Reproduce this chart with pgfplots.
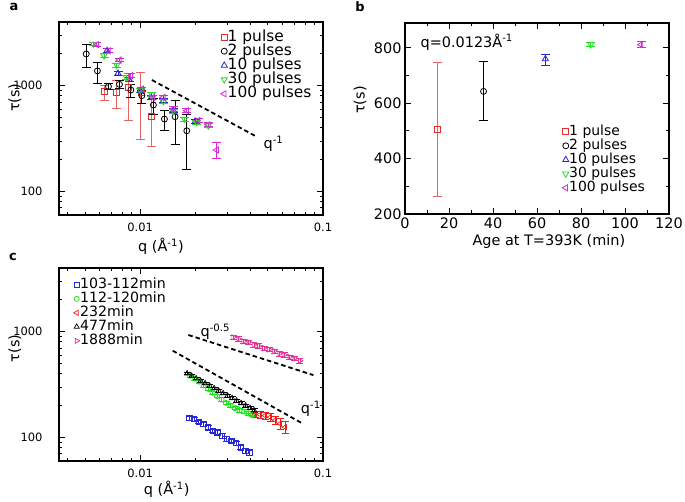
\documentclass[border=0pt]{standalone}
\usepackage{pgfplots}
\pgfplotsset{compat=1.18}
\usepackage{fontspec}
\setmainfont{DejaVu Sans}

\definecolor{pred}{RGB}{225,45,45}
\definecolor{predlt}{RGB}{232,100,100}
\definecolor{pblue}{RGB}{40,40,210}
\definecolor{pgreen}{RGB}{40,215,40}
\definecolor{pmag}{RGB}{215,40,215}
\definecolor{cblue}{RGB}{40,40,210}
\definecolor{cgreen}{RGB}{30,225,30}
\definecolor{cred}{RGB}{235,30,30}
\definecolor{cpink}{RGB}{225,50,150}

\newcommand\lblfont{\fontsize{14.5}{16}\selectfont}
\newcommand\tickfont{\fontsize{11.5}{12}\selectfont}

\pgfplotsset{
  mk/.style={only marks, mark size=3bp},
}

\begin{document}
\begin{tikzpicture}
\useasboundingbox (0,0) rectangle (685bp,502bp);

% ---------------- panel a
\begin{axis}[scale only axis, anchor=north west, at={(59bp,480bp)},
  width=264bp, height=193bp,
  axis line style={line width=1.3bp},
  every tick/.style={line width=1bp, black},
  major tick length=6bp, minor tick length=3.5bp, tick align=inside,
  xmode=log, ymode=log,
  xmin=0.0036, xmax=0.1, ymin=60, ymax=4000,
  xtick={0.01,0.1}, xticklabels={0.01,0.1},
  minor xtick={0.004,0.005,0.006,0.007,0.008,0.009,0.02,0.03,0.04,0.05,0.06,0.07,0.08,0.09},
  ytick={100,1000}, yticklabels={100,1000},
  minor ytick={60,70,80,90,200,300,400,500,600,700,800,900,2000,3000,4000},
  tick label style={font=\tickfont},
  xticklabel style={yshift=-4bp},
  yticklabel style={xshift=-13bp},
  xlabel={q (Å\textsuperscript{-1})}, ylabel={τ(s)},
  label style={font=\lblfont},
  xlabel style={at={(axis description cs:0.386,-0.164)}, anchor=center},
  ylabel style={at={(axis description cs:-0.167,0.606)}, anchor=center},
  legend style={draw=none, fill=none, font=\fontsize{15.5}{16}\selectfont, legend cell align=left,
    inner sep=0pt, nodes={inner sep=0.4bp, text height=10.8bp, text depth=2.6bp}, row sep=0pt,
    at={(axis description cs:0.612,0.96)}, anchor=north west},
  legend image code/.code={\draw[mark repeat=2,mark phase=2,#1] plot coordinates {(0bp,0bp)(4bp,0bp)(8bp,0bp)};}]
\addplot+[mk, mark=square, color=pred, mark options={fill=white, line width=0.8bp},
  error bars/.cd, y dir=both, y explicit,
  error bar style={color=predlt, line width=0.9bp}, error mark options={rotate=90, mark size=4.5bp, line width=0.9bp}]
  coordinates {
  (0.00638,877) += (0,138) -= (0,156)
  (0.00746,864) += (0,267) -= (0,249)
  (0.00863,964) += (0,330) -= (0,490)
  (0.0101,864) += (0,472) -= (0,551)
  (0.01148,509) += (0,239) -= (0,244)
  };
\addplot+[mk, mark=o, color=black, mark options={fill=white, line width=0.8bp},
  error bars/.cd, y dir=both, y explicit,
  error bar style={line width=0.9bp}, error mark options={rotate=90, mark size=4.5bp, line width=0.9bp}]
  coordinates {
  (0.00507,1995) += (0,483) -= (0,505)
  (0.00584,1380) += (0,282) -= (0,330)
  (0.00671,985) += (0,75) -= (0,70)
  (0.00771,1030) += (0,90) -= (0,90)
  (0.0089,910) += (0,127) -= (0,135)
  (0.01022,804) += (0,106) -= (0,124)
  (0.01182,657) += (0,108) -= (0,117)
  (0.01358,484) += (0,96) -= (0,109)
  (0.01553,509) += (0,223) -= (0,232)
  (0.0180,375) += (0,155) -= (0,212)
  };
\addplot+[mk, mark=triangle, mark size=3.5bp, color=pblue, mark options={fill=white, line width=0.8bp},
  error bars/.cd, y dir=both, y explicit,
  error bar style={line width=0.9bp}, error mark options={rotate=90, mark size=4.5bp, line width=0.9bp}]
  coordinates {
  (0.0066,2140) +- (0,90)
  (0.00757,1307) +- (0,60)
  (0.0087,1150) +- (0,50)
  (0.01,897) +- (0,40)
  (0.0115,770) +- (0,35)
  (0.0134,720) +- (0,30)
  (0.0152,580) +- (0,25)
  (0.0200,460) +- (0,20)
  };
\addplot+[mk, mark=triangle, mark size=3.5bp, color=pgreen, mark options={rotate=180, fill=white, line width=0.8bp},
  error bars/.cd, y dir=both, y explicit,
  error bar style={line width=0.9bp}, error mark options={rotate=90, mark size=4.5bp, line width=0.9bp}]
  coordinates {
  (0.00555,2480) +- (0,100)
  (0.00635,1920) +- (0,80)
  (0.00746,1568) +- (0,65)
  (0.0084,1198) +- (0,50)
  (0.01,910) +- (0,40)
  (0.0116,820) +- (0,35)
  (0.0134,710) +- (0,30)
  (0.0152,576) +- (0,25)
  (0.0175,484) +- (0,22)
  (0.0204,450) +- (0,20)
  (0.0236,418) +- (0,18)
  };
\addplot+[mk, mark=triangle, mark size=3.5bp, color=pmag, mark options={rotate=90, fill=white, line width=0.8bp},
  error bars/.cd, y dir=both, y explicit,
  error bar style={line width=0.9bp}, error mark options={rotate=90, mark size=4.5bp, line width=0.9bp}]
  coordinates {
  (0.0058,2440) +- (0,100)
  (0.00671,2140) +- (0,90)
  (0.00771,1751) +- (0,70)
  (0.0089,1243) +- (0,50)
  (0.01022,931) +- (0,40)
  (0.0117,775) +- (0,35)
  (0.0134,775) +- (0,35)
  (0.0152,602) +- (0,28)
  (0.018,580) +- (0,26)
  (0.0208,470) +- (0,22)
  (0.0236,428) +- (0,20)
  (0.0262,247) += (0,44) -= (0,42)
  };
\addplot[forget plot, black, line width=1.8bp, dash pattern=on 4.5bp off 3bp]
  coordinates {(0.0116,1132) (0.0425,336)};
\node[anchor=west, font=\lblfont] at (axis cs:0.0453,281) {q\textsuperscript{-1}};
\legend{1 pulse, 2 pulses, 10 pulses, 30 pulses, 100 pulses}
\end{axis}

% ---------------- panel b
\begin{axis}[scale only axis, anchor=north west, at={(405bp,479bp)},
  width=264bp, height=191bp,
  axis line style={line width=1.3bp},
  every tick/.style={line width=1bp, black},
  major tick length=6bp, minor tick length=3.5bp, tick align=inside,
  xmin=0, xmax=120, ymin=200, ymax=890,
  xtick={0,20,40,60,80,100,120}, xticklabels={0,20,40,60,80,100,120},
  ytick={200,400,600,800}, yticklabels={200,400,600,800},
  minor xtick={10,30,50,70,90,110}, minor ytick={300,500,700},
  tick label style={font=\fontsize{14.5}{16}\selectfont},
  xlabel={Age at T=393K (min)}, ylabel={τ(s)},
  label style={font=\lblfont},
  xlabel style={at={(axis description cs:0.545,-0.145)}, anchor=center},
  ylabel style={at={(axis description cs:-0.170,0.597)}, anchor=center},
  legend style={draw=none, fill=none, font=\fontsize{14}{15}\selectfont, legend cell align=left,
    inner sep=0pt, nodes={inner sep=0.4bp, text height=10.6bp, text depth=2.6bp}, row sep=0pt,
    at={(axis description cs:0.595,0.468)}, anchor=north west},
  legend image code/.code={\draw[mark repeat=2,mark phase=2,#1] plot coordinates {(0bp,0bp)(4bp,0bp)(8bp,0bp)};}]
\addplot+[mk, mark=square, color=pred, mark options={fill=white, line width=0.8bp},
  error bars/.cd, y dir=both, y explicit,
  error bar style={color=predlt, line width=0.9bp}, error mark options={rotate=90, mark size=4.5bp, line width=0.9bp}]
  coordinates {(14.7,505) += (0,243) -= (0,241)};
\addplot+[mk, mark=o, color=black, mark options={fill=white, line width=0.8bp},
  error bars/.cd, y dir=both, y explicit,
  error bar style={line width=0.9bp}, error mark options={rotate=90, mark size=4.5bp, line width=0.9bp}]
  coordinates {(35.7,643) += (0,107) -= (0,106)};
\addplot+[mk, mark=triangle, mark size=3.5bp, color=pblue, mark options={fill=white, line width=0.8bp},
  error bars/.cd, y dir=both, y explicit,
  error bar style={line width=0.9bp}, error mark options={rotate=90, mark size=4.5bp, line width=0.9bp}]
  coordinates {(63.8,760) += (0,16) -= (0,24)};
\addplot+[mk, mark=triangle, mark size=3.5bp, color=pgreen, mark options={rotate=180, fill=white, line width=0.8bp},
  error bars/.cd, y dir=both, y explicit,
  error bar style={line width=0.9bp}, error mark options={rotate=90, mark size=4.5bp, line width=0.9bp}]
  coordinates {(84.4,812) +- (0,8)};
\addplot+[mk, mark=triangle, mark size=3.5bp, color=pmag, mark options={rotate=90, fill=white, line width=0.8bp},
  error bars/.cd, y dir=both, y explicit,
  error bar style={line width=0.9bp}, error mark options={rotate=90, mark size=4.5bp, line width=0.9bp}]
  coordinates {(107.3,812) +- (0,10)};
\node[anchor=west, font=\lblfont] at (axis cs:5.5,822) {q=0.0123Å\textsuperscript{-1}};
\legend{1 pulse, 2 pulses, 10 pulses, 30 pulses, 100 pulses}
\end{axis}

% ---------------- panel c
\begin{axis}[scale only axis, anchor=north west, at={(59bp,234bp)},
  width=264bp, height=193bp,
  axis line style={line width=1.3bp},
  every tick/.style={line width=1bp, black},
  major tick length=6bp, minor tick length=3.5bp, tick align=inside,
  xmode=log, ymode=log,
  xmin=0.0036, xmax=0.1, ymin=60, ymax=4000,
  xtick={0.01,0.1}, xticklabels={0.01,0.1},
  minor xtick={0.004,0.005,0.006,0.007,0.008,0.009,0.02,0.03,0.04,0.05,0.06,0.07,0.08,0.09},
  ytick={100,1000}, yticklabels={100,1000},
  minor ytick={60,70,80,90,200,300,400,500,600,700,800,900,2000,3000,4000},
  tick label style={font=\tickfont},
  xticklabel style={yshift=-4bp},
  yticklabel style={xshift=-13bp},
  xlabel={q (Å\textsuperscript{-1})}, ylabel={τ(s)},
  label style={font=\lblfont},
  xlabel style={at={(axis description cs:0.408,-0.147)}, anchor=center},
  ylabel style={at={(axis description cs:-0.167,0.584)}, anchor=center},
  legend style={draw=none, fill=none, font=\fontsize{14.2}{15}\selectfont, legend cell align=left,
    inner sep=0pt, nodes={inner sep=0.4bp, text height=10.6bp, text depth=2.6bp}, row sep=0pt,
    at={(axis description cs:0.055,0.95)}, anchor=north west},
  legend image code/.code={\draw[mark repeat=2,mark phase=2,#1] plot coordinates {(0bp,0bp)(4bp,0bp)(8bp,0bp)};}]
\addplot+[only marks, mark=square, mark size=2.6bp, mark options={line width=0.7bp}, color=cblue,
  error bars/.cd, y dir=both, y explicit,
  error bar style={line width=0.7bp}, error mark options={rotate=90, mark size=3.5bp, line width=0.7bp}]
  coordinates {
  (0.01859,152.6) +- (0,7)
  (0.01973,149.3) +- (0,7)
  (0.02093,140.7) +- (0,6)
  (0.02218,133.8) +- (0,6)
  (0.02353,124.6) +- (0,6)
  (0.02496,115.7) +- (0,5)
  (0.02645,111.7) +- (0,5)
  (0.02806,103.8) +- (0,5)
  (0.02977,96.6) +- (0,5)
  (0.03155,93.1) +- (0,4)
  (0.03346,88.5) +- (0,4)
  (0.03550,80.6) +- (0,4)
  (0.03762,74.8) +- (0,4)
  (0.03956,72.3) +- (0,4)
  };
\addplot+[only marks, mark=o, mark size=2.6bp, mark options={line width=0.7bp}, color=cgreen,
  error bars/.cd, y dir=both, y explicit,
  error bar style={line width=0.7bp}, error mark options={rotate=90, mark size=3.5bp, line width=0.7bp}]
  coordinates {
  (0.01876,383.6) +- (0,14)
  (0.01985,360.6) +- (0,13)
  (0.02101,337.2) +- (0,12)
  (0.02223,311.1) +- (0,11)
  (0.02353,288.3) +- (0,10)
  (0.02490,266.0) +- (0,10)
  (0.02635,246.4) +- (0,9)
  (0.02789,228.4) +- (0,9)
  (0.02951,212.5) +- (0,8)
  (0.03123,200.3) +- (0,8)
  (0.03304,189.7) +- (0,7)
  (0.03497,181.6) +- (0,7)
  (0.03700,175.8) +- (0,7)
  (0.03916,169.4) +- (0,7)
  (0.04093,162.9) +- (0,6)
  };
\addplot+[only marks, mark=triangle, mark size=3bp, mark options={rotate=90, line width=0.7bp}, color=cred,
  error bars/.cd, y dir=both, y explicit,
  error bar style={line width=0.7bp}, error mark options={rotate=90, mark size=3.5bp, line width=0.7bp}]
  coordinates {
  (0.04250,166.5) +- (0,12)
  (0.04525,164.7) +- (0,13)
  (0.04822,161.1) +- (0,13)
  (0.05134,156.0) +- (0,14)
  (0.05467,146.1) +- (0,14)
  (0.05821,135.3) +- (0,15)
  (0.06199,125.4) +- (0,16)
  };
\addplot+[only marks, mark=triangle, mark size=3bp, mark options={line width=0.7bp}, color=black,
  error bars/.cd, y dir=both, y explicit,
  error bar style={line width=0.7bp}, error mark options={rotate=90, mark size=3.5bp, line width=0.7bp}]
  coordinates {
  (0.01806,403.3) +- (0,12)
  (0.01912,382.8) +- (0,11)
  (0.02023,362.2) +- (0,11)
  (0.02141,343.1) +- (0,10)
  (0.02266,324.9) +- (0,10)
  (0.02398,308.4) +- (0,9)
  (0.02538,292.1) +- (0,9)
  (0.02685,276.6) +- (0,8)
  (0.02842,261.9) +- (0,8)
  (0.03008,248.5) +- (0,8)
  (0.03183,235.3) +- (0,7)
  (0.03368,222.9) +- (0,7)
  (0.03564,211.1) +- (0,7)
  (0.03772,200.3) +- (0,6)
  (0.03992,189.7) +- (0,6)
  (0.04198,180.8) +- (0,6)
  };
\addplot+[only marks, mark=triangle, mark size=3bp, mark options={rotate=-90, line width=0.7bp}, color=cpink,
  error bars/.cd, y dir=both, y explicit,
  error bar style={line width=0.7bp}, error mark options={rotate=90, mark size=3.5bp, line width=0.7bp}]
  coordinates {
  (0.03236,885) +- (0,45)
  (0.03449,855) +- (0,43)
  (0.03678,810) +- (0,40)
  (0.03926,795) +- (0,40)
  (0.04187,750) +- (0,38)
  (0.04465,735) +- (0,37)
  (0.04761,700) +- (0,35)
  (0.05082,680) +- (0,34)
  (0.05419,655) +- (0,33)
  (0.05779,620) +- (0,31)
  (0.06162,605) +- (0,30)
  (0.06577,575) +- (0,29)
  (0.07014,560) +- (0,28)
  (0.07486,530) +- (0,30)
  };
\addplot[forget plot, black, line width=1.8bp, dash pattern=on 4.5bp off 3bp]
  coordinates {(0.01836,931) (0.0886,389)};
\addplot[forget plot, black, line width=1.8bp, dash pattern=on 4.5bp off 3bp]
  coordinates {(0.01508,661) (0.0765,137)};
\node[anchor=west, font=\lblfont] at (axis cs:0.0205,1000) {q\textsuperscript{-0.5}};
\node[anchor=west, font=\lblfont] at (axis cs:0.0725,186) {q\textsuperscript{-1}};
\legend{103-112min, 112-120min, 232min, 477min, 1888min}
\end{axis}

\node[font=\bfseries\fontsize{13}{13}\selectfont] at (14bp,495bp) {a};
\node[font=\bfseries\fontsize{13}{13}\selectfont] at (360bp,495bp) {b};
\node[font=\bfseries\fontsize{13}{13}\selectfont] at (13bp,245bp) {c};
\end{tikzpicture}
\end{document}
